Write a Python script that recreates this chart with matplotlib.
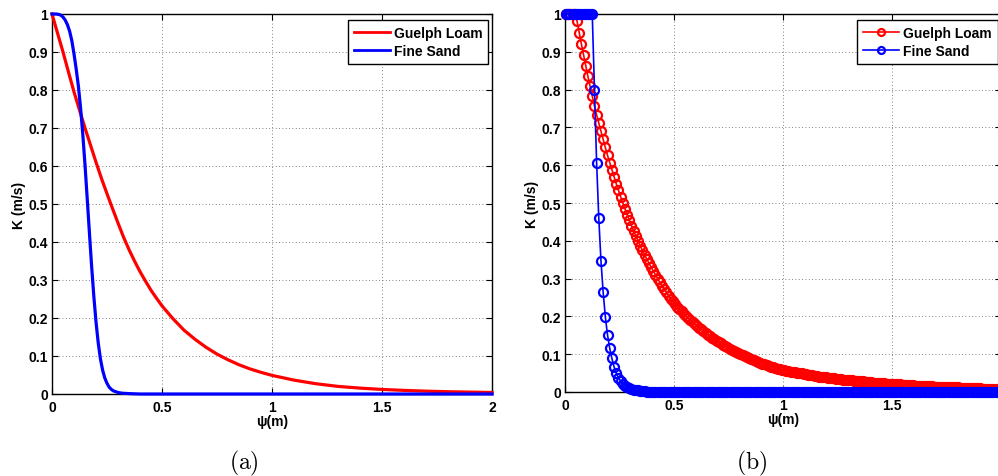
import numpy as np
import matplotlib
matplotlib.use("Agg")
import matplotlib.pyplot as plt
from matplotlib.ticker import FormatStrFormatter

plt.rcParams['font.family'] = ['Liberation Sans', 'DejaVu Sans']
plt.rcParams['font.weight'] = 'bold'
plt.rcParams['mathtext.fontset'] = 'cm'

# ---------------- data : panel (a) (continuous curves) ----------------
psi_a_loam = [0, 0.025, 0.05, 0.075, 0.1, 0.125, 0.15, 0.175, 0.2, 0.225, 0.25,
              0.275, 0.3, 0.325, 0.35, 0.375, 0.4, 0.425, 0.45, 0.475, 0.5, 0.55,
              0.6, 0.65, 0.7, 0.75, 0.8, 0.85, 0.9, 0.95, 1.0, 1.1, 1.2, 1.3, 1.4,
              1.5, 1.6, 1.7, 1.8, 1.9, 2.0]
k_a_loam = [1.0, 0.95, 0.90, 0.847, 0.795, 0.747, 0.700, 0.655, 0.610, 0.567,
            0.527, 0.488, 0.450, 0.413, 0.380, 0.350, 0.322, 0.297, 0.273, 0.252,
            0.232, 0.198, 0.168, 0.144, 0.123, 0.105, 0.090, 0.077, 0.066, 0.057,
            0.049, 0.0365, 0.027, 0.020, 0.0155, 0.012, 0.0095, 0.0075, 0.006,
            0.005, 0.004]

psi_a_sand = [0, 0.02, 0.03, 0.04, 0.05, 0.06, 0.07, 0.08, 0.09, 0.10, 0.11, 0.12,
              0.13, 0.14, 0.15, 0.16, 0.17, 0.18, 0.19, 0.20, 0.21, 0.22, 0.23,
              0.24, 0.25, 0.26, 0.27, 0.28, 0.30, 0.32, 0.35, 0.40, 2.0]
k_a_sand = [1.0, 1.0, 0.999, 0.997, 0.992, 0.984, 0.972, 0.955, 0.93, 0.895, 0.855,
            0.81, 0.752, 0.683, 0.603, 0.515, 0.425, 0.337, 0.258, 0.19, 0.135,
            0.093, 0.063, 0.042, 0.028, 0.018, 0.012, 0.008, 0.004, 0.002, 0.001,
            0.0, 0.0]

# ---------------- data : panel (b) (sampled every 0.01 m) ----------------
psi_b = np.round(np.arange(0.005, 2.0, 0.01), 3)

k_b_loam = [
    1.0, 1.0, 1.0, 1.0, 1.0,
    0.982, 0.951, 0.921, 0.892, 0.863, 0.835, 0.809, 0.782, 0.757, 0.733,
    0.712, 0.690, 0.668, 0.647, 0.626, 0.607, 0.587, 0.569, 0.551, 0.534,
    0.517, 0.500, 0.485, 0.469, 0.455, 0.440, 0.426, 0.413, 0.400, 0.387,
    0.375, 0.363, 0.352, 0.341, 0.330, 0.320, 0.310, 0.300, 0.290, 0.281,
    0.272, 0.264, 0.255, 0.247, 0.240, 0.232,
    0.226, 0.219, 0.213, 0.207, 0.202, 0.196, 0.191, 0.185, 0.180, 0.175,
    0.170, 0.166, 0.161, 0.157, 0.152, 0.148, 0.144, 0.140, 0.136, 0.132,
    0.129, 0.125, 0.122, 0.118, 0.115, 0.112, 0.109, 0.106, 0.103, 0.100,
    0.097, 0.094, 0.092, 0.089, 0.087, 0.084, 0.082, 0.080, 0.078, 0.075,
    0.073, 0.071, 0.069, 0.067, 0.066, 0.064, 0.062, 0.060, 0.059, 0.057,
    0.056, 0.055, 0.054, 0.053, 0.052, 0.051, 0.050, 0.049, 0.048, 0.047,
    0.046, 0.045, 0.044, 0.043, 0.042, 0.041, 0.041, 0.040, 0.039, 0.038,
    0.037, 0.037, 0.036, 0.035, 0.035, 0.034, 0.033, 0.033, 0.032, 0.031,
    0.031, 0.030, 0.030, 0.029, 0.028, 0.028, 0.027, 0.027, 0.026, 0.026,
    0.025, 0.025, 0.024, 0.024, 0.023, 0.023, 0.022, 0.022, 0.021, 0.021,
    0.021, 0.020, 0.020, 0.019, 0.019, 0.019, 0.018, 0.018, 0.018, 0.017,
    0.017, 0.017, 0.016, 0.016, 0.016, 0.015, 0.015, 0.015, 0.014, 0.014,
    0.014, 0.014, 0.013, 0.013, 0.013, 0.013, 0.012, 0.012, 0.012, 0.012,
    0.011, 0.011, 0.011, 0.011, 0.011, 0.010, 0.010, 0.010, 0.010, 0.0095,
    0.009, 0.009, 0.009, 0.009, 0.009, 0.0085, 0.008, 0.008, 0.008,
]

k_b_sand = [
    1.0, 1.0, 1.0, 1.0, 1.0, 1.0, 1.0, 1.0, 1.0, 1.0, 1.0, 1.0, 1.0,
    0.80, 0.607, 0.459, 0.347, 0.264, 0.199, 0.151, 0.116, 0.089, 0.067, 0.050,
    0.038, 0.029, 0.022, 0.017, 0.013, 0.010, 0.008, 0.006, 0.005, 0.004,
    0.003, 0.002, 0.002, 0.001, 0.001, 0.001, 0.001,
    0, 0, 0, 0, 0, 0, 0, 0, 0, 0, 0, 0, 0, 0, 0, 0, 0, 0, 0, 0,
    0, 0, 0, 0, 0, 0, 0, 0, 0, 0, 0, 0, 0, 0, 0, 0, 0, 0, 0, 0,
    0, 0, 0, 0, 0, 0, 0, 0, 0, 0, 0, 0, 0, 0, 0, 0, 0, 0, 0, 0,
    0, 0, 0, 0, 0, 0, 0, 0, 0, 0, 0, 0, 0, 0, 0, 0, 0, 0, 0, 0,
    0, 0, 0, 0, 0, 0, 0, 0, 0, 0, 0, 0, 0, 0, 0, 0, 0, 0, 0, 0,
    0, 0, 0, 0, 0, 0, 0, 0, 0, 0, 0, 0, 0, 0, 0, 0, 0, 0, 0, 0,
    0, 0, 0, 0, 0, 0, 0, 0, 0, 0, 0, 0, 0, 0, 0, 0, 0, 0, 0, 0,
    0, 0, 0, 0, 0, 0, 0, 0, 0, 0, 0, 0, 0, 0, 0, 0, 0, 0, 0,
]

series_names = ["Guelph Loam", "Fine Sand"]
x_ticks = [0, 0.5, 1, 1.5, 2]
x_ticklabels_a = ["0", "0.5", "1", "1.5", "2"]
x_ticklabels_b = ["0", "0.5", "1", "1.5", ""]   # "2" falls outside the picture
y_ticks = [0, 0.1, 0.2, 0.3, 0.4, 0.5, 0.6, 0.7, 0.8, 0.9, 1.0]
x_label = "ψ(m)"
y_label = "K (m/s)"
captions = ["(a)", "(b)"]

# ---------------- figure ----------------
W, H = 998, 477
FS = 10
fig = plt.figure(figsize=(W / 100, H / 100), dpi=100)
axA = fig.add_axes([52 / W, 82 / H, 440 / W, 380 / H])
axB = fig.add_axes([565 / W, 84 / H, 436 / W, 378 / H])


def style(ax, xtl):
    ax.set_xlim(0, 2)
    ax.set_ylim(0, 1)
    ax.set_xticks(x_ticks)
    ax.set_xticklabels(xtl)
    ax.set_yticks(y_ticks)
    ax.yaxis.set_major_formatter(FormatStrFormatter('%g'))
    ax.tick_params(direction='in', top=True, right=True, length=4, width=0.8,
                   labelsize=FS, colors='black')
    ax.tick_params(axis='x', pad=4)
    ax.tick_params(axis='y', pad=3)
    for lab in ax.get_xticklabels() + ax.get_yticklabels():
        lab.set_fontweight('bold')
    ax.grid(True, linestyle=(0, (1, 3)), color='0.35', lw=0.6)
    ax.set_axisbelow(True)
    for s in ax.spines.values():
        s.set_linewidth(1.0)
        s.set_color('black')
    ax.set_xlabel(x_label, fontsize=FS, fontweight='bold', labelpad=0)
    ax.set_ylabel(y_label, fontsize=FS, fontweight='bold', labelpad=2)


style(axA, x_ticklabels_a)
style(axB, x_ticklabels_b)

axA.plot(psi_a_loam, k_a_loam, color='#ff0000', lw=2.3, label=series_names[0],
         clip_on=False, zorder=3)
axA.plot(psi_a_sand, k_a_sand, color='#0000ff', lw=2.3, label=series_names[1],
         clip_on=False, zorder=4)

axB.plot(psi_b, k_b_loam, color='#ff0000', lw=1.2, marker='o', ms=6.5, mfc='none',
         mew=1.6, label=series_names[0], clip_on=False, zorder=3)
axB.plot(psi_b, k_b_sand, color='#0000ff', lw=1.2, marker='o', ms=6.5, mfc='none',
         mew=1.6, label=series_names[1], clip_on=False, zorder=4)

for ax, (wpx, hpx, gx) in ((axA, (440, 380, 4)), (axB, (436, 378, 3.5))):
    leg = ax.legend(loc='upper right', bbox_to_anchor=(1 - gx / wpx, 1 - 6 / hpx),
                    borderaxespad=0, fancybox=False, framealpha=1,
                    edgecolor='black', prop={'weight': 'bold', 'size': FS},
                    handlelength=2.6, borderpad=0.4,
                    labelspacing=0.32, handletextpad=0.3)
    leg.get_frame().set_linewidth(1.0)
    leg.set_zorder(10)
    if ax is axA:
        for ln in leg.get_lines():
            ln.set_linewidth(2.0)
    else:
        for ln in leg.get_lines():
            ln.set_markersize(5)

fig.text(244 / W, 1 - 463 / H, r'$\mathrm{' + captions[0] + '}$', fontsize=17,
         ha='center', va='center')
fig.text(752 / W, 1 - 463 / H, r'$\mathrm{' + captions[1] + '}$', fontsize=17,
         ha='center', va='center')

fig.savefig('out.png', dpi=100)
